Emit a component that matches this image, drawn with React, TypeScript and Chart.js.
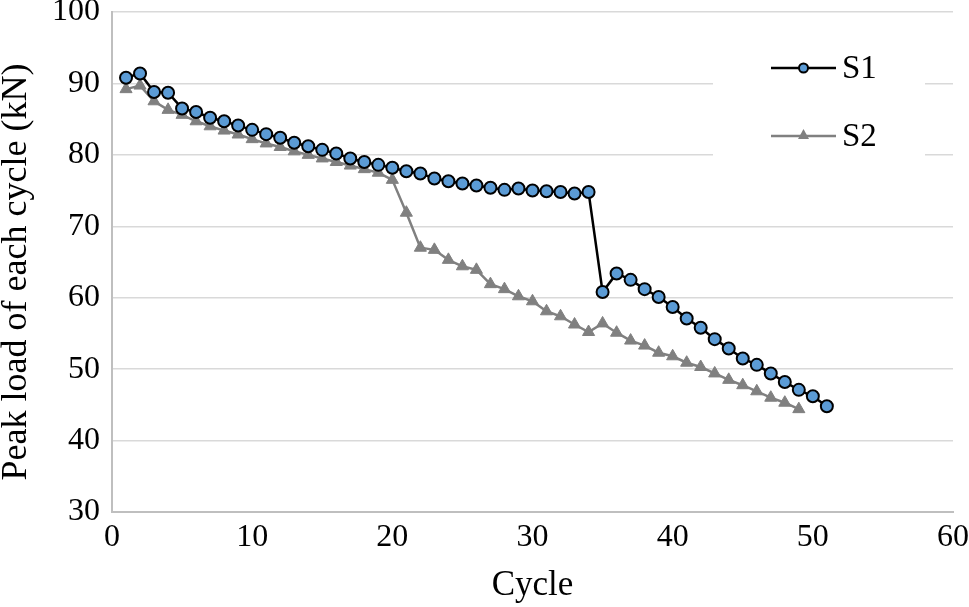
import React, { useEffect, useRef } from "react";
import { Chart, registerables } from "chart.js";

Chart.register(...registerables);

const cyclesS1 = [1, 2, 3, 4, 5, 6, 7, 8, 9, 10, 11, 12, 13, 14, 15, 16, 17, 18, 19, 20, 21, 22, 23, 24, 25, 26, 27, 28, 29, 30, 31, 32, 33, 34, 35, 36, 37, 38, 39, 40, 41, 42, 43, 44, 45, 46, 47, 48, 49, 50, 51];
const loadS1 = [90.8, 91.4, 88.8, 88.7, 86.5, 86.0, 85.2, 84.7, 84.1, 83.5, 82.9, 82.4, 81.7, 81.2, 80.7, 80.2, 79.5, 79.0, 78.6, 78.2, 77.7, 77.4, 76.7, 76.3, 76.0, 75.7, 75.4, 75.1, 75.3, 75.0, 74.9, 74.8, 74.6, 74.8, 60.8, 63.4, 62.5, 61.2, 60.1, 58.7, 57.1, 55.8, 54.2, 52.9, 51.5, 50.6, 49.4, 48.2, 47.1, 46.2, 44.8];
const cyclesS2 = [1, 2, 3, 4, 5, 6, 7, 8, 9, 10, 11, 12, 13, 14, 15, 16, 17, 18, 19, 20, 21, 22, 23, 24, 25, 26, 27, 28, 29, 30, 31, 32, 33, 34, 35, 36, 37, 38, 39, 40, 41, 42, 43, 44, 45, 46, 47, 48, 49];
const loadS2 = [89.2, 89.7, 87.5, 86.3, 85.6, 84.7, 84.0, 83.4, 82.85, 82.2, 81.6, 81.1, 80.5, 80.0, 79.5, 79.0, 78.5, 78.0, 77.5, 76.5, 71.9, 67.0, 66.7, 65.3, 64.4, 63.9, 61.9, 61.2, 60.2, 59.5, 58.1, 57.4, 56.25, 55.2, 56.4, 55.1, 54.0, 53.3, 52.3, 51.8, 50.9, 50.3, 49.4, 48.5, 47.75, 46.9, 46.0, 45.3, 44.4];
const seriesNames = ["S1", "S2"];
const xTitle = "Cycle";
const yTitle = "Peak load of each cycle (kN)";

const FONT = '"Liberation Serif", "Times New Roman", serif';

const yTitlePlugin = {
  id: "yTitle",
  afterDraw(chart: any) {
    const ctx = chart.ctx;
    ctx.save();
    ctx.translate(26, 272);
    ctx.rotate(-Math.PI / 2);
    ctx.font = `36px ${FONT}`;
    ctx.fillStyle = "#000";
    ctx.textAlign = "center";
    ctx.textBaseline = "alphabetic";
    ctx.fillText(yTitle, 0, 0);
    ctx.restore();
  },
};

const legendPlugin = {
  id: "customLegend",
  afterDraw(chart: any) {
    const ctx = chart.ctx;
    ctx.save();
    ctx.fillStyle = "#ffffff";
    ctx.fillRect(713, 30, 212, 150);
    const rows = [
      { y: 68, color: "#000000", fill: "#5B9BD5", style: "circle", label: seriesNames[0] },
      { y: 136, color: "#808080", fill: "#808080", style: "triangle", label: seriesNames[1] },
    ];
    rows.forEach((r) => {
      ctx.strokeStyle = r.color;
      ctx.lineWidth = 2.5;
      ctx.beginPath();
      ctx.moveTo(771, r.y);
      ctx.lineTo(836, r.y);
      ctx.stroke();
      if (r.style === "circle") {
        ctx.beginPath();
        ctx.arc(803.5, r.y, 4.5, 0, Math.PI * 2);
        ctx.fillStyle = r.fill;
        ctx.fill();
        ctx.lineWidth = 2;
        ctx.strokeStyle = "#000";
        ctx.stroke();
      } else {
        ctx.beginPath();
        ctx.moveTo(803.5, r.y - 7);
        ctx.lineTo(809, r.y + 3);
        ctx.lineTo(798, r.y + 3);
        ctx.closePath();
        ctx.fillStyle = r.fill;
        ctx.fill();
      }
      ctx.fillStyle = "#000";
      ctx.font = `33px ${FONT}`;
      ctx.textBaseline = "middle";
      ctx.textAlign = "left";
      ctx.fillText(r.label, 842, r.y + 1);
    });
    ctx.restore();
  },
};

export default function App() {
  const ref = useRef<HTMLCanvasElement>(null);
  useEffect(() => {
    document.body.style.margin = "0";
    const canvas = ref.current!;
    const chart = new Chart(canvas, {
      type: "line",
      data: {
        datasets: [
          {
            label: seriesNames[0],
            data: cyclesS1.map((c, i) => ({ x: c, y: loadS1[i] })),
            borderColor: "#000000",
            borderWidth: 2.5,
            backgroundColor: "#5B9BD5",
            pointBackgroundColor: "#5B9BD5",
            pointBorderColor: "#000000",
            pointBorderWidth: 2,
            pointRadius: 6,
            pointStyle: "circle",
            tension: 0,
            order: 1,
          },
          {
            label: seriesNames[1],
            data: cyclesS2.map((c, i) => ({ x: c, y: loadS2[i] })),
            borderColor: "#808080",
            borderWidth: 2.5,
            backgroundColor: "#808080",
            pointBackgroundColor: "#808080",
            pointBorderColor: "#808080",
            pointBorderWidth: 1,
            pointRadius: 7,
            pointStyle: "triangle",
            tension: 0,
            order: 2,
          },
        ],
      },
      options: {
        responsive: false,
        animation: false,
        devicePixelRatio: 1,
        layout: { padding: { left: 0, top: 12, right: 16, bottom: 0 } },
        plugins: { legend: { display: false }, tooltip: { enabled: false } },
        scales: {
          x: {
            type: "linear",
            min: 0,
            max: 60,
            ticks: { stepSize: 10, color: "#000", font: { family: FONT, size: 32 }, padding: 6 },
            grid: { display: false, drawTicks: false },
            border: { color: "#bfbfbf", width: 2 },
            title: { display: true, text: xTitle, color: "#000", font: { family: FONT, size: 35 }, padding: { top: 2, bottom: 0 } },
            afterFit: (s: any) => {
              s.height = 95;
              s.paddingLeft = 0;
              s.paddingRight = 0;
            },
          },
          y: {
            min: 30,
            max: 100,
            ticks: { stepSize: 10, color: "#000", font: { family: FONT, size: 32 }, padding: 12 },
            grid: { color: "#d9d9d9", lineWidth: 1.5, drawTicks: false },
            border: { color: "#bfbfbf", width: 2 },
            title: { display: false },
            afterFit: (s: any) => {
              s.width = 112;
              s.paddingTop = 0;
              s.paddingBottom = 0;
            },
          },
        },
      },
      plugins: [yTitlePlugin, legendPlugin],
    });
    return () => chart.destroy();
  }, []);
  return (
    <div style={{ width: 969, height: 607 }}>
      <canvas ref={ref} width={969} height={607} style={{ display: "block" }} />
    </div>
  );
}
